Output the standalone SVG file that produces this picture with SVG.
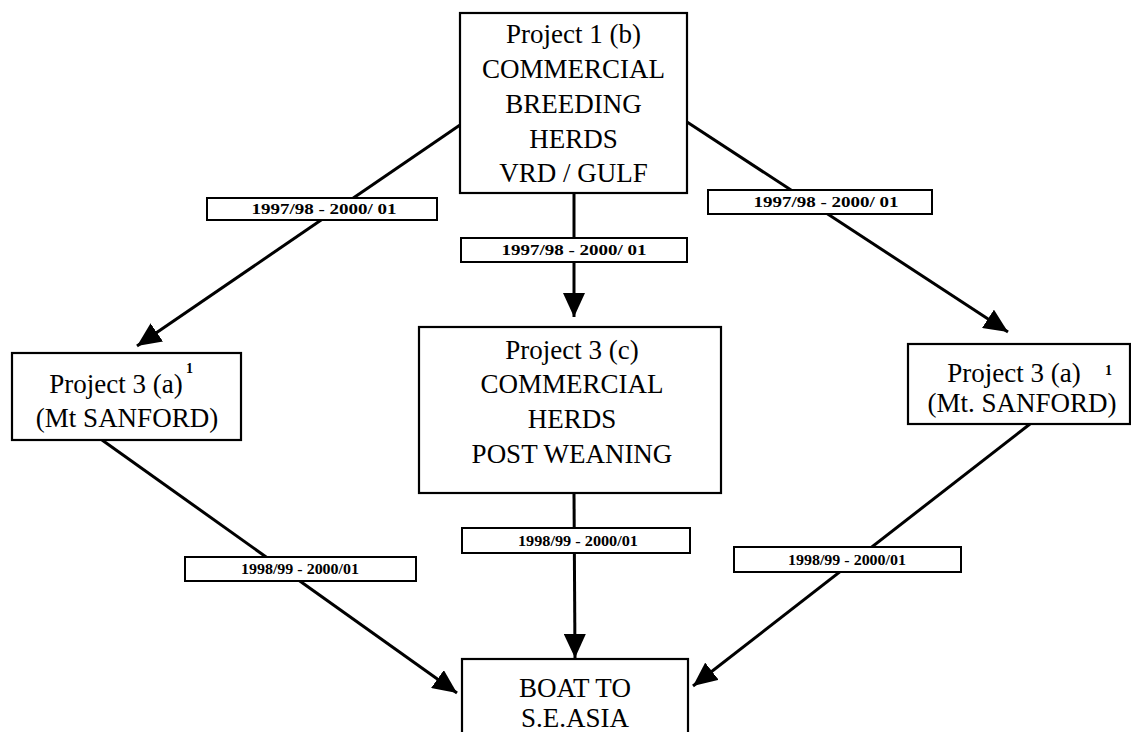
<svg xmlns="http://www.w3.org/2000/svg" width="1131" height="732" viewBox="0 0 1131 732">
  <style>
    .box { fill: #ffffff; stroke: #000000; stroke-width: 2.2; }
    .lbl { fill: #ffffff; stroke: #000000; stroke-width: 2; }
    .t { font-family: "Liberation Serif", "Times New Roman", serif; font-size: 27px; fill: #000000; text-anchor: middle; }
    .sup { font-family: "Liberation Serif", "Times New Roman", serif; font-size: 14px; font-weight: bold; fill: #000000; }
    .lt { font-family: "Liberation Serif", "Times New Roman", serif; font-size: 14px; font-weight: bold; fill: #000000; text-anchor: middle; }
    .edge { stroke: #000000; stroke-width: 3; fill: none; marker-end: url(#arrow); }
  </style>
  <defs>
    <marker id="arrow" markerUnits="userSpaceOnUse" markerWidth="24" markerHeight="22" refX="24" refY="11" orient="auto" viewBox="0 0 24 22">
      <path d="M0,0 L24,11 L0,22 z" fill="#000000"/>
    </marker>
  </defs>
  <rect width="1131" height="732" fill="#ffffff"/>

  <g id="connectors">
    <line class="edge" x1="460" y1="125" x2="137" y2="346"/>
    <line class="edge" x1="687" y1="122" x2="1008" y2="332"/>
    <line class="edge" x1="574" y1="193" x2="574" y2="317"/>
    <line class="edge" x1="102" y1="440" x2="457" y2="693"/>
    <line class="edge" x1="574" y1="493" x2="575" y2="658"/>
    <line class="edge" x1="1030" y1="424" x2="693" y2="686"/>

    <g id="label-left-top">
      <rect class="lbl" x="207" y="198" width="230" height="22"/>
      <text class="lt" x="324" y="214" textLength="145" lengthAdjust="spacingAndGlyphs">1997/98 - 2000/ 01</text>
    </g>
    <g id="label-right-top">
      <rect class="lbl" x="708" y="190" width="224" height="24"/>
      <text class="lt" x="826" y="207" textLength="145" lengthAdjust="spacingAndGlyphs">1997/98 - 2000/ 01</text>
    </g>
    <g id="label-center-top">
      <rect class="lbl" x="461" y="238" width="226" height="24"/>
      <text class="lt" x="574" y="255" textLength="145" lengthAdjust="spacingAndGlyphs">1997/98 - 2000/ 01</text>
    </g>
    <g id="label-left-bottom">
      <rect class="lbl" x="185" y="557" width="231" height="24"/>
      <text class="lt" x="300" y="574" textLength="118" lengthAdjust="spacingAndGlyphs">1998/99 - 2000/01</text>
    </g>
    <g id="label-center-bottom">
      <rect class="lbl" x="462" y="528" width="228" height="25"/>
      <text class="lt" x="578" y="546" textLength="120" lengthAdjust="spacingAndGlyphs">1998/99 - 2000/01</text>
    </g>
    <g id="label-right-bottom">
      <rect class="lbl" x="734" y="547" width="227" height="25"/>
      <text class="lt" x="847" y="565" textLength="118" lengthAdjust="spacingAndGlyphs">1998/99 - 2000/01</text>
    </g>
  </g>

  <g id="node-project1b">
    <rect class="box" x="460" y="13" width="227" height="180"/>
    <text class="t" x="573.5" y="43">Project 1 (b)</text>
    <text class="t" x="573.5" y="78">COMMERCIAL</text>
    <text class="t" x="573.5" y="113">BREEDING</text>
    <text class="t" x="573.5" y="148">HERDS</text>
    <text class="t" x="573.5" y="182">VRD / GULF</text>
  </g>

  <g id="node-project3a-left">
    <rect class="box" x="12" y="353" width="229" height="87"/>
    <text class="t" x="116" y="393">Project 3 (a)</text>
    <text class="sup" x="186" y="373">1</text>
    <text class="t" x="127" y="427">(Mt SANFORD)</text>
  </g>

  <g id="node-project3c">
    <rect class="box" x="419" y="327" width="302" height="166"/>
    <text class="t" x="572" y="359">Project 3 (c)</text>
    <text class="t" x="572" y="393">COMMERCIAL</text>
    <text class="t" x="572" y="428">HERDS</text>
    <text class="t" x="572" y="463">POST WEANING</text>
  </g>

  <g id="node-project3a-right">
    <rect class="box" x="908" y="344" width="222" height="80"/>
    <text class="t" x="1014" y="382">Project 3 (a)</text>
    <text class="sup" x="1105" y="375">1</text>
    <text class="t" x="1022" y="412">(Mt. SANFORD)</text>
  </g>

  <g id="node-boat">
    <rect class="box" x="462" y="659" width="226" height="90"/>
    <text class="t" x="575" y="697">BOAT TO</text>
    <text class="t" x="575" y="727">S.E.ASIA</text>
  </g>
</svg>
